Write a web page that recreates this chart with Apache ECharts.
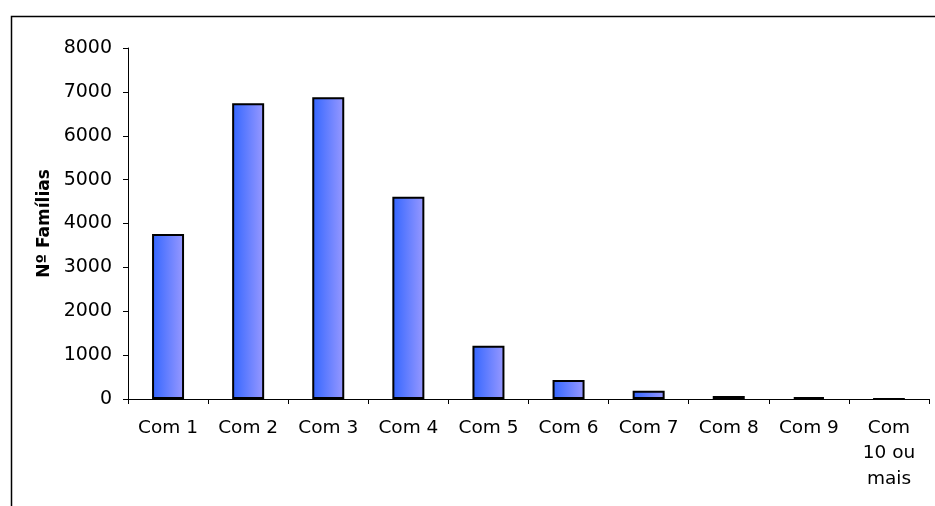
<!DOCTYPE html>
<html>
<head>
<meta charset="utf-8">
<script src="https://cdn.jsdelivr.net/npm/echarts@6/dist/echarts.min.js"></script>
<style>html,body{margin:0;padding:0;background:#fff}#c{width:935px;height:506px}</style>
</head>
<body>
<div id="c"></div>
<script>
var categories = ['Com 1','Com 2','Com 3','Com 4','Com 5','Com 6','Com 7','Com 8','Com 9','Com\n10 ou\nmais'];
var familias = [3760, 6740, 6880, 4610, 1215, 433, 190, 70, 40, 5];
var yTitle = 'Nº Famílias';

var chart = echarts.init(document.getElementById('c'), null, {renderer:'canvas'});
var font = 'Verdana, "DejaVu Sans", sans-serif';
chart.setOption({
  animation: false,
  backgroundColor: '#fff',
  graphic: [{
    type: 'rect', left: 9, top: 14, silent: true,
    shape: {width: 1200, height: 800},
    style: {fill: 'none', stroke: '#000', lineWidth: 1.5}
  }],
  grid: {left: 128, right: 6, top: 48, bottom: 107, containLabel: false},
  xAxis: {
    type: 'category', data: categories,
    axisLine: {lineStyle: {color: '#000', width: 1}},
    axisTick: {show: true, alignWithLabel: false, length: 5, lineStyle: {color: '#000'}},
    axisLabel: {color: '#000', fontFamily: font, fontSize: 18.5, margin: 16, lineHeight: 25.5, interval: 0}
  },
  yAxis: {
    type: 'value', min: 0, max: 8000, interval: 1000,
    name: yTitle, nameLocation: 'middle', nameGap: 73, nameRotate: 90,
    nameTextStyle: {color: '#000', fontFamily: font, fontSize: 17, fontWeight: 'bold', padding: [0, 0, 0, 0]},
    axisLine: {show: true, lineStyle: {color: '#000', width: 1}},
    axisTick: {show: true, length: 5, lineStyle: {color: '#000'}},
    axisLabel: {color: '#000', fontFamily: font, fontSize: 19, margin: 16,
      formatter: function (v) { return String(v); }},
    splitLine: {show: false}
  },
  series: [{
    type: 'bar', data: familias, barWidth: 32,
    itemStyle: {
      borderColor: '#000', borderWidth: 2,
      color: new echarts.graphic.LinearGradient(0, 0, 1, 0, [
        {offset: 0, color: '#3366FF'},
        {offset: 1, color: '#9999FF'}
      ])
    }
  }]
});
</script>
</body>
</html>
